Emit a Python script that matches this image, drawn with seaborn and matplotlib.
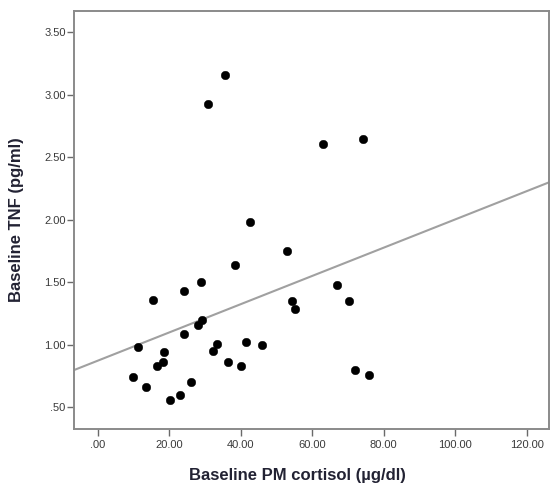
import matplotlib
matplotlib.use("Agg")
import matplotlib.pyplot as plt
import seaborn as sns
import pandas as pd

# Data
cortisol = [35.6, 30.9, 42.5, 62.9, 74.3, 53.0, 67.0, 54.4, 55.1, 70.3,
            72.1, 75.8, 38.4, 29.0, 24.1, 15.6, 29.1, 28.1, 24.2, 11.4,
            18.5, 18.2, 16.5, 33.3, 32.2, 41.4, 46.0, 36.4, 40.1, 9.8,
            13.4, 26.1, 23.0, 20.2]
tnf = [3.16, 2.93, 1.98, 2.61, 2.65, 1.75, 1.48, 1.35, 1.29, 1.35,
       0.80, 0.76, 1.64, 1.50, 1.43, 1.36, 1.20, 1.16, 1.09, 0.98,
       0.94, 0.86, 0.83, 1.01, 0.95, 1.02, 1.00, 0.86, 0.83, 0.74,
       0.66, 0.70, 0.60, 0.56]

x_ticks = [0, 20, 40, 60, 80, 100, 120]
x_tick_labels = [".00", "20.00", "40.00", "60.00", "80.00", "100.00", "120.00"]
y_ticks = [0.5, 1.0, 1.5, 2.0, 2.5, 3.0, 3.5]
y_tick_labels = [".50", "1.00", "1.50", "2.00", "2.50", "3.00", "3.50"]

df = pd.DataFrame({"cortisol": cortisol, "tnf": tnf})

sns.set_theme(style="white")
plt.rcParams["font.family"] = ["Liberation Sans", "DejaVu Sans"]

fig = plt.figure(figsize=(5.5, 4.86), dpi=100)
ax = fig.add_axes([74 / 550, 1 - 429 / 486, 475 / 550, 418.3 / 486])

ax.set_xlim(-6.6, 126.2)
ax.set_ylim(0.327, 3.673)

sns.regplot(data=df, x="cortisol", y="tnf", ax=ax, scatter=False, ci=None,
            truncate=False, color="#a0a0a0", line_kws={"linewidth": 1.5})
sns.scatterplot(data=df, x="cortisol", y="tnf", ax=ax, color="black",
                s=38, edgecolor="black", linewidth=0.3, zorder=3)

ax.set_xlim(-6.6, 126.2)
ax.set_ylim(0.327, 3.673)
ax.set_xticks(x_ticks)
ax.set_xticklabels(x_tick_labels)
ax.set_yticks(y_ticks)
ax.set_yticklabels(y_tick_labels)

for sp in ax.spines.values():
    sp.set_color("#8a8a8a")
    sp.set_linewidth(1.4)

ax.tick_params(axis="both", which="major", direction="out", length=5, width=1.0,
               color="#6a6a6a", labelsize=8, labelcolor="#3a3a3a",
               bottom=True, left=True)
ax.tick_params(axis="y", pad=1)
ax.tick_params(axis="x", pad=3)

ax.set_xlabel("Baseline PM cortisol (µg/dl)", fontsize=12, fontweight="bold",
              color="#222233")
ax.set_ylabel("Baseline TNF (pg/ml)", fontsize=12, fontweight="bold",
              color="#222233")
ax.xaxis.set_label_coords((297 - 74) / 475, -(475.7 - 429) / 418.3)
ax.yaxis.set_label_coords(-(74 - 17) / 475, 0.5)
ax.xaxis.label.set_verticalalignment("center")
ax.yaxis.label.set_verticalalignment("center")

fig.savefig("out.png", dpi=100)
